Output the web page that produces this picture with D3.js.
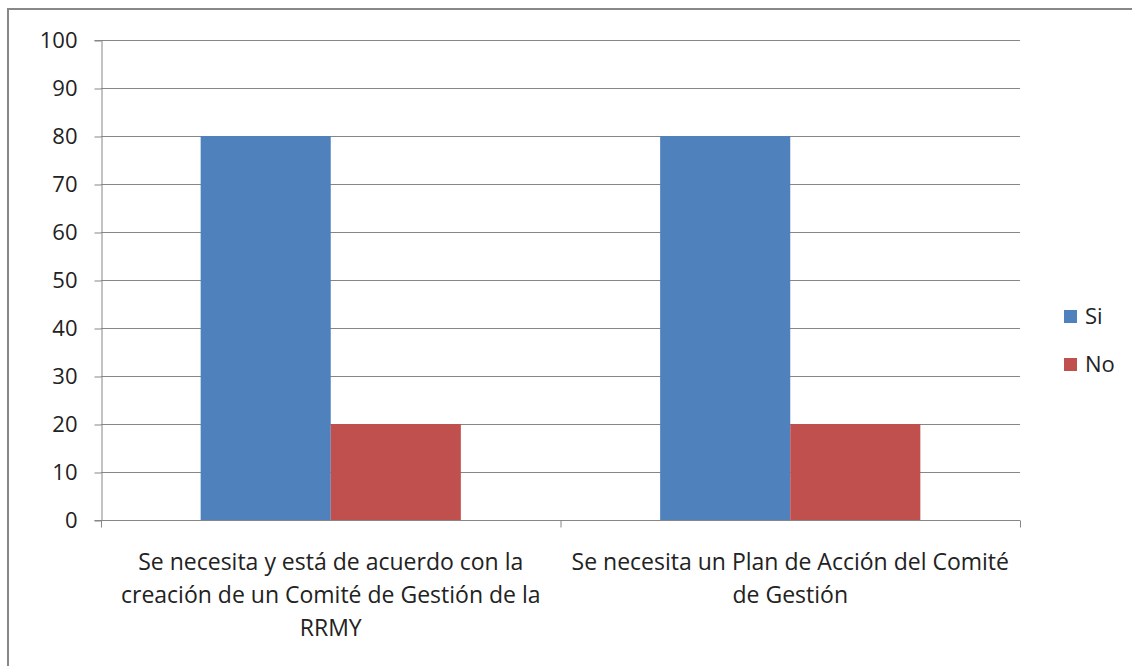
<!DOCTYPE html>
<html>
<head>
<meta charset="utf-8">
<script src="https://cdn.jsdelivr.net/npm/d3@7"></script>
<style>
  body { margin: 0; background: #fff; }
  svg { display: block; font-family: "Open Sans", sans-serif; }
</style>
</head>
<body>
<svg id="chart" width="1132" height="666"></svg>
<script>
const categories = [
  ['Se necesita y está de acuerdo con la', 'creación de un Comité de Gestión de la', 'RRMY'],
  ['Se necesita un Plan de Acción del Comité', 'de Gestión']
];
const seriesNames = ['Si', 'No'];
const siValues = [80, 80];
const noValues = [20, 20];
const yTicks = [0, 10, 20, 30, 40, 50, 60, 70, 80, 90, 100];
const colors = ['#4F81BD', '#C0504D'];

const svg = d3.select('#chart');
const plotLeft = 101, plotRight = 1020, plotTop = 40, plotBottom = 520;
const fontSize = 22;
const catFontSize = 23;

// outer frame
svg.append('rect')
  .attr('x', 8).attr('y', 9).attr('width', 1140).attr('height', 680)
  .attr('fill', 'none').attr('stroke', '#888').attr('stroke-width', 2);

const x = d3.scaleBand().domain(d3.range(categories.length)).range([plotLeft, plotRight]);
const xInner = d3.scaleBand().domain(seriesNames).range([0, x.bandwidth()])
  .paddingOuter(0.766);
const y = d3.scaleLinear().domain([0, 100]).range([plotBottom, plotTop]);

// gridlines
svg.append('g').selectAll('line').data(yTicks.filter(d => d > 0)).join('line')
  .attr('x1', plotLeft).attr('x2', plotRight)
  .attr('y1', d => y(d) + 0.5).attr('y2', d => y(d) + 0.5)
  .attr('stroke', '#868686').attr('stroke-width', 1);

// bars
const data = [siValues, noValues];
seriesNames.forEach((s, si) => {
  svg.append('g').selectAll('rect').data(data[si]).join('rect')
    .attr('x', (d, i) => x(i) + xInner(s))
    .attr('y', d => y(d))
    .attr('width', xInner.bandwidth())
    .attr('height', d => y(0) - y(d))
    .attr('fill', colors[si]);
});

// y axis
const yAxis = svg.append('g').attr('transform', `translate(${plotLeft + 0.5},0)`)
  .call(d3.axisLeft(y).tickValues(yTicks).tickSize(7).tickPadding(17));
yAxis.select('.domain').attr('stroke', '#868686');
yAxis.selectAll('.tick line').attr('stroke', '#868686').attr('transform', 'translate(0,0.5)');
yAxis.selectAll('.tick text').attr('font-size', fontSize).attr('fill', '#222')
  .attr('font-family', '"Open Sans", sans-serif');

// x axis
const xg = svg.append('g').attr('transform', `translate(0,${plotBottom + 0.5})`);
xg.append('line').attr('x1', plotLeft).attr('x2', plotRight).attr('stroke', '#868686');
xg.selectAll('.xt').data(d3.range(categories.length + 1)).join('line')
  .attr('x1', i => (i < categories.length ? x(i) : plotRight) + 0.5)
  .attr('x2', i => (i < categories.length ? x(i) : plotRight) + 0.5)
  .attr('y1', 0).attr('y2', 7).attr('stroke', '#868686');

categories.forEach((lines, i) => {
  const t = svg.append('text')
    .attr('x', x(i) + x.bandwidth() / 2)
    .attr('y', 570)
    .attr('text-anchor', 'middle')
    .attr('font-size', catFontSize).attr('fill', '#222');
  lines.forEach((ln, j) => {
    t.append('tspan').attr('x', x(i) + x.bandwidth() / 2)
      .attr('dy', j === 0 ? 0 : 33).text(ln);
  });
});

// legend
seriesNames.forEach((s, i) => {
  const g = svg.append('g').attr('transform', `translate(1064,${310 + i * 48})`);
  g.append('rect').attr('width', 13).attr('height', 13).attr('fill', colors[i]);
  g.append('text').attr('x', 21).attr('y', 14).attr('font-size', fontSize).attr('fill', '#222').text(s);
});
</script>
</body>
</html>
